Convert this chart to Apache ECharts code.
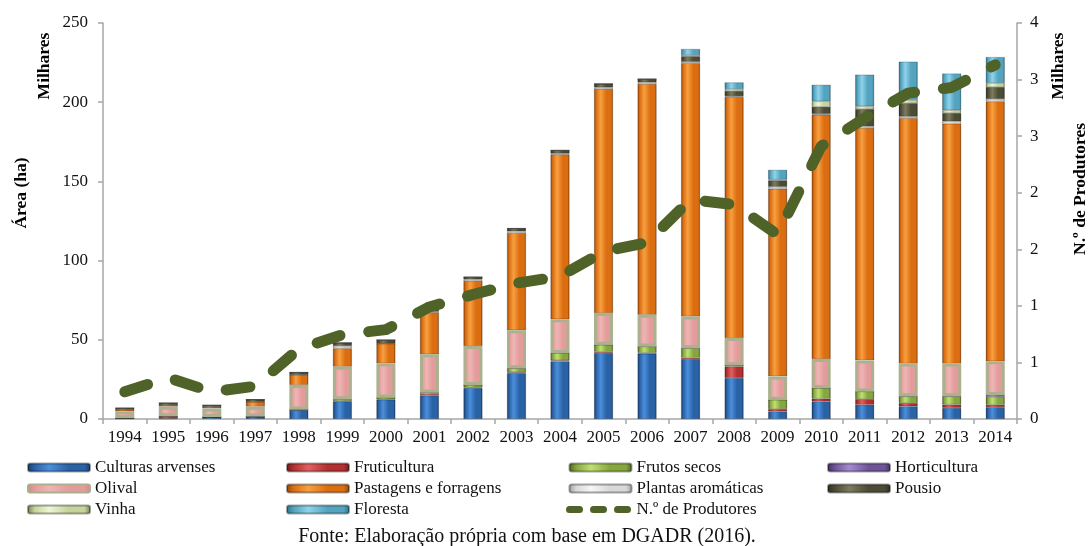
<!DOCTYPE html>
<html>
<head>
<meta charset="utf-8">
<script src="https://cdn.jsdelivr.net/npm/echarts@6/dist/echarts.min.js"></script>
<style>
  html, body { margin: 0; padding: 0; background: #fff; }
  #chart { width: 1089px; height: 546px; }
</style>
</head>
<body>
<div id="chart"></div>
<script>
// Área por ocupação (ha) e número de produtores (milhares), 1994–2014
const years = ['1994','1995','1996','1997','1998','1999','2000','2001','2002','2003','2004',
               '2005','2006','2007','2008','2009','2010','2011','2012','2013','2014'];

const culturasArvenses = [0.4, 0.3, 1.2, 1.5, 5.5, 11.1, 12.2, 14.7, 19.6, 29.0, 36.4, 41.7, 41.2, 37.9, 25.9, 4.8, 11.1, 9.0, 8.0, 7.0, 7.5];
const fruticultura     = [0, 1.5, 0, 0, 0, 0.3, 0.3, 1.1, 0.4, 0.5, 0.6, 0.7, 0.6, 0.8, 7.3, 1.5, 1.7, 3.6, 2.1, 2.1, 1.5];
const frutosSecos      = [0, 0, 0, 0, 0.5, 1.0, 1.0, 1.0, 1.5, 2.5, 4.7, 4.5, 4.0, 6.0, 0.8, 5.9, 6.8, 4.8, 4.2, 5.2, 5.0];
const horticultura     = [0, 0, 0, 0, 0, 0, 0, 0, 0, 0, 0, 0, 0, 0, 0, 0, 0, 0, 0, 0, 1.2];
const olival           = [4.5, 6.0, 5.5, 6.3, 15.5, 20.6, 21.7, 24.0, 24.6, 24.0, 21.3, 20.0, 20.0, 20.0, 17.1, 14.7, 18.3, 19.6, 20.7, 20.7, 21.2];
const pastagens        = [1.0, 1.0, 1.0, 3.0, 6.5, 11.6, 12.4, 26.5, 41.0, 61.5, 104.0, 141.4, 145.7, 160.0, 152.2, 118.5, 154.2, 146.7, 154.9, 151.4, 164.1];
const plantasAromat    = [0, 0, 0, 0, 0, 1.5, 0, 0.5, 1.0, 1.0, 0.6, 1.0, 1.0, 0.8, 0.5, 1.2, 0.5, 1.0, 1.0, 1.5, 1.5];
const pousio           = [1.0, 1.3, 1.0, 1.5, 1.4, 2.0, 2.3, 1.5, 1.5, 1.8, 2.0, 2.3, 2.1, 3.5, 3.3, 4.0, 4.5, 11.0, 8.5, 5.3, 7.6];
const vinha            = [0, 0, 0, 0, 0, 0, 0, 0, 0, 0, 0, 0, 0, 0.8, 1.2, 0.5, 3.5, 1.7, 2.0, 1.7, 2.5];
const floresta         = [0, 0, 0, 0, 0, 0, 0, 0, 0, 0, 0, 0, 0, 3.8, 4.2, 6.2, 10.4, 20.0, 24.2, 23.2, 16.4];

// N.º de produtores, em milhares
const produtores = [0.24, 0.365, 0.24, 0.29, 0.62, 0.745, 0.79, 0.99, 1.10, 1.20, 1.26, 1.48, 1.56, 1.94, 1.895, 1.63, 2.41, 2.66, 2.88, 2.93, 3.13];

const FONT = "'Liberation Serif', 'Times New Roman', serif";

// horizontal bevel-like gradient for the bars
function bevel(dark, mid, light) {
  return {
    type: 'linear', x: 0, y: 0, x2: 1, y2: 0,
    colorStops: [
      { offset: 0, color: dark },
      { offset: 0.12, color: mid },
      { offset: 0.35, color: light },
      { offset: 0.65, color: mid },
      { offset: 0.9, color: mid },
      { offset: 1, color: dark }
    ]
  };
}

function barSeries(name, data, color, extra) {
  return Object.assign({
    name: name,
    type: 'bar',
    stack: 'area',
    barWidth: 19,
    data: data,
    itemStyle: { color: color, borderColor: 'rgba(0,0,0,0.35)', borderWidth: 0.6 },
    emphasis: { disabled: true }
  }, extra || {});
}

const chart = echarts.init(document.getElementById('chart'), null, { renderer: 'canvas' });

const legendBase = {
  orient: 'vertical',
  padding: 0,
  itemWidth: 62,
  itemHeight: 8,
  itemGap: 4,
  textStyle: { fontFamily: FONT, fontSize: 17, color: '#111', lineHeight: 17 },
  selectedMode: false
};

const titleFont = 'bold 17.5px ' + FONT;

const option = {
  backgroundColor: '#fff',
  animation: false,
  grid: { left: 103, right: 72, top: 23, bottom: 127, containLabel: false },
  legend: [
    Object.assign({}, legendBase, { left: 27, top: 459, data: ['Culturas arvenses', 'Olival', 'Vinha'] }),
    Object.assign({}, legendBase, { left: 286, top: 459, data: ['Fruticultura', 'Pastagens e forragens', 'Floresta'] }),
    Object.assign({}, legendBase, { left: 566, top: 459, data: ['Frutos secos', 'Plantas aromáticas',
      { name: 'N.º de Produtores', lineStyle: { width: 7, type: [10, 14], cap: 'round', color: '#4f6228' } }] }),
    Object.assign({}, legendBase, { left: 827, top: 459, data: ['Horticultura', 'Pousio'] })
  ],
  xAxis: {
    type: 'category',
    data: years,
    boundaryGap: true,
    axisLine: { lineStyle: { color: '#a6a6a6', width: 1.5 } },
    axisTick: { show: true, length: 5, interval: 0, lineStyle: { color: '#a6a6a6', width: 1.5 } },
    axisLabel: { fontFamily: FONT, fontSize: 17, color: '#111', margin: 10, interval: 0 }
  },
  yAxis: [
    {
      type: 'value', min: 0, max: 250, interval: 50,
      axisLine: { show: true, lineStyle: { color: '#a6a6a6', width: 1.5 } },
      axisTick: { show: true, length: 5, lineStyle: { color: '#a6a6a6', width: 1.5 } },
      splitLine: { show: false },
      axisLabel: { fontFamily: FONT, fontSize: 17, color: '#111', margin: 15 }
    },
    {
      type: 'value', min: 0, max: 3.5, interval: 0.5, position: 'right',
      axisLine: { show: true, lineStyle: { color: '#a6a6a6', width: 1.5 } },
      axisTick: { show: true, length: 5, lineStyle: { color: '#a6a6a6', width: 1.5 } },
      splitLine: { show: false },
      axisLabel: {
        fontFamily: FONT, fontSize: 17, color: '#111', margin: 13,
        formatter: function (v) { return String(Math.round(v)); }
      }
    }
  ],
  graphic: [
    { type: 'text', x: 21, y: 193, rotation: Math.PI / 2,
      style: { text: 'Área (ha)', font: titleFont, fill: '#000', align: 'center', verticalAlign: 'middle' } },
    { type: 'text', x: 44, y: 66, rotation: Math.PI / 2,
      style: { text: 'Milhares', font: titleFont, fill: '#000', align: 'center', verticalAlign: 'middle' } },
    { type: 'text', x: 1058, y: 66, rotation: Math.PI / 2,
      style: { text: 'Milhares', font: titleFont, fill: '#000', align: 'center', verticalAlign: 'middle' } },
    { type: 'text', x: 1080, y: 189, rotation: Math.PI / 2,
      style: { text: 'N.º de Produtores', font: titleFont, fill: '#000', align: 'center', verticalAlign: 'middle' } },
    { type: 'text', x: 527, y: 537,
      style: { text: 'Fonte: Elaboração própria com base em DGADR (2016).', font: '20px ' + FONT, fill: '#111', align: 'center', verticalAlign: 'middle' } }
  ],
  series: [
    barSeries('Culturas arvenses', culturasArvenses, bevel('#163a66', '#2a62a6', '#4b8fdc')),
    barSeries('Fruticultura', fruticultura, bevel('#6b1a1b', '#b3302f', '#e06060')),
    barSeries('Frutos secos', frutosSecos, bevel('#4b5e22', '#86a73e', '#c0e070')),
    barSeries('Horticultura', horticultura, bevel('#3e2f57', '#6e5497', '#a58ad0')),
    barSeries('Olival', olival, null, {
      z: 3,
      itemStyle: { color: bevel('#cf8584', '#e39c9b', '#eeb5b4'), borderColor: '#abb08e', borderWidth: 3 }
    }),
    barSeries('Pastagens e forragens', pastagens, bevel('#8f4608', '#dc6e12', '#f7a040')),
    barSeries('Plantas aromáticas', plantasAromat, bevel('#9a9a9a', '#d8d8d8', '#f6f6f6')),
    barSeries('Pousio', pousio, bevel('#2e2e20', '#4c4b36', '#7d7c5e')),
    barSeries('Vinha', vinha, bevel('#6f7a4c', '#c4d49a', '#eef5d8')),
    barSeries('Floresta', floresta, bevel('#2f6f86', '#54a3bf', '#8fd3ea')),
    {
      name: 'N.º de Produtores',
      type: 'line',
      yAxisIndex: 1,
      data: produtores,
      symbol: 'none',
      z: 5,
      lineStyle: { color: '#4f6228', width: 11, type: [24, 29], cap: 'round', join: 'round' },
      itemStyle: { color: '#4f6228' },
      emphasis: { disabled: true }
    }
  ]
};

chart.setOption(option);
</script>
</body>
</html>
